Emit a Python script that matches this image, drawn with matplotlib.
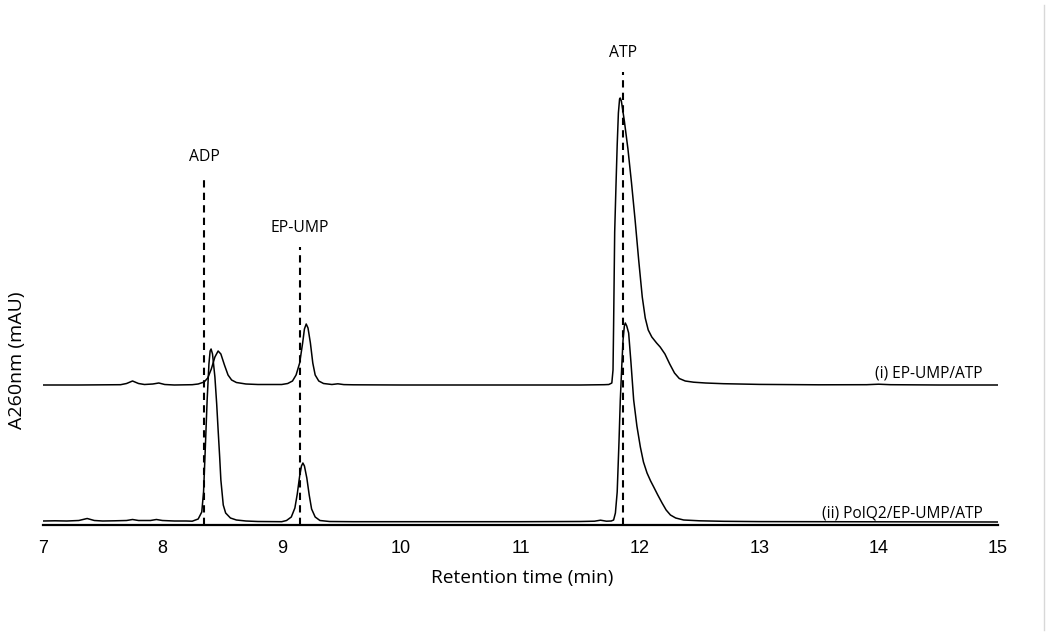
import matplotlib
matplotlib.use("Agg")
import matplotlib.pyplot as plt
from matplotlib.lines import Line2D

# retention time (min) / absorbance (arbitrary mAU)
t_i = [7.0, 7.3, 7.65, 7.70, 7.75, 7.80, 7.85, 7.92, 7.97, 8.02, 8.10, 8.25,
       8.30, 8.35, 8.38, 8.41, 8.44, 8.467, 8.49, 8.52, 8.55, 8.58, 8.62, 8.70, 8.80,
       9.00, 9.05, 9.09, 9.12, 9.15, 9.175, 9.19, 9.205, 9.22, 9.24, 9.26, 9.28, 9.31,
       9.35, 9.42, 9.47, 9.52, 9.60, 10.0, 10.5, 11.0, 11.5, 11.70,
       11.74, 11.765, 11.775, 11.78, 11.789, 11.80, 11.81, 11.82, 11.83, 11.835,
       11.845, 11.87, 11.90, 11.93, 11.96, 11.99, 12.02, 12.045, 12.07, 12.10, 12.14,
       12.17, 12.21, 12.25, 12.29, 12.33, 12.38, 12.45, 12.55, 12.70, 13.0, 13.5, 13.9,
       14.0, 14.1, 14.5, 15.0]
a_i = [0.0, 0.0, 0.3, 1.5, 4.0, 1.5, 0.5, 1.0, 2.0, 0.5, 0.0, 0.3,
       1.0, 3.0, 7.0, 16, 28, 34, 31, 20, 10, 5, 2.5, 1.0, 0.5,
       0.5, 1.5, 4, 10, 22, 42, 56, 61, 57, 42, 22, 10, 4,
       1.5, 0.5, 1.2, 0.4, 0.2, 0.0, 0.0, 0.0, 0.0, 0.3,
       0.5, 2, 15, 60, 153, 200, 240, 272, 286, 287,
       284, 264, 236, 202, 165, 125, 88, 67, 55, 48, 42,
       38, 31, 21, 12, 6.5, 4, 2.8, 2.0, 1.3, 0.6, 0.2, 0.3,
       0.8, 0.3, 0.0, 0.0]

t_ii = [7.0, 7.1, 7.2, 7.3, 7.37, 7.43, 7.5, 7.6, 7.7, 7.75, 7.8, 7.9, 7.95, 8.0,
        8.1, 8.2, 8.25, 8.30, 8.33, 8.345, 8.36, 8.375, 8.39, 8.40, 8.408, 8.42,
        8.44, 8.455, 8.467, 8.48, 8.49, 8.51, 8.53, 8.57, 8.62, 8.70, 8.80,
        9.00, 9.04, 9.08, 9.11, 9.13, 9.15, 9.165, 9.177, 9.19, 9.21, 9.23, 9.25,
        9.28, 9.32, 9.40, 9.60, 10.0, 10.5, 11.0, 11.5, 11.62, 11.67, 11.72,
        11.76, 11.78, 11.795, 11.81, 11.825, 11.836, 11.848, 11.859, 11.87, 11.878,
        11.89, 11.906, 11.925, 11.948, 11.975, 12.004, 12.03, 12.06, 12.09, 12.116,
        12.15, 12.186, 12.22, 12.256, 12.30, 12.367, 12.50, 12.70, 13.0, 14.0, 15.0]
a_ii = [1.0, 1.2, 1.0, 1.5, 3.5, 1.5, 1.0, 1.2, 1.5, 2.5, 1.5, 1.5, 2.5, 1.5,
        1.0, 1.0, 0.8, 3, 10, 30, 75, 122, 158, 171, 173, 168,
        145, 118, 92, 65, 42, 17, 9, 4, 2, 1.0, 0.5,
        0.3, 1.5, 5, 14, 28, 46, 56, 59, 56, 44, 27, 13,
        5, 1.5, 0.5, 0.3, 0.3, 0.3, 0.3, 0.5, 0.8, 1.8, 0.8,
        1.0, 2, 9, 30, 80, 122, 155, 182, 196, 199,
        196, 189, 160, 122, 96, 75, 60, 49, 41, 35,
        27, 19, 12, 7, 4, 2, 1.2, 0.7, 0.4, 0.2, 0.0]

offset_i = 137  # vertical stacking of trace (i)

markers = ["ADP", "EP-UMP", "ATP"]
marker_t = [8.352, 9.154, 11.862]
marker_top = [346, 275, 450]

trace_labels = ["(i) EP-UMP/ATP", "(ii) PolQ2/EP-UMP/ATP"]

fig = plt.figure(figsize=(10.5, 6.39), dpi=100)
ax = fig.add_axes([43 / 1050, 114 / 639, 955 / 1050, 525 / 639])

ax.plot(t_i, [a + offset_i for a in a_i], color="black", lw=1.1)
ax.plot(t_ii, a_ii, color="black", lw=1.1)

for name, t, top in zip(markers, marker_t, marker_top):
    ax.plot([t, t], [-3, top], color="black", lw=1.5, ls=(0, (3.5, 2.5)))
    ax.text(t, top + 19, name, ha="center", va="center", fontsize=11.3,
            family="Open Sans")

ax.text(14.874, offset_i + 12, trace_labels[0], ha="right", va="center",
        fontsize=11.2, family="Open Sans")
ax.text(14.874, 9, trace_labels[1], ha="right", va="center",
        fontsize=11.2, family="Open Sans")

ax.set_xlim(7, 15)
ax.set_ylim(-3, 522)
ax.set_xticks(range(7, 16))
ax.tick_params(axis="x", length=0, pad=11, labelsize=13)
for lab in ax.get_xticklabels():
    lab.set_family("Liberation Sans")
ax.set_yticks([])
for s in ["top", "right", "left"]:
    ax.spines[s].set_visible(False)
ax.spines["bottom"].set_linewidth(1.6)

ax.set_xlabel("Retention time (min)", fontsize=13.8, family="Open Sans")
ax.xaxis.set_label_coords(479 / 955, -44 / 525)
ax.set_ylabel("A260nm (mAU)", fontsize=14, family="Open Sans")
ax.yaxis.set_label_coords(-17 / 955, 165 / 525)

fig.add_artist(Line2D([1044 / 1050, 1044 / 1050], [9 / 639, 634 / 639],
                      color="#d8d8d8", lw=1.0))

fig.savefig("out.png", dpi=100)
